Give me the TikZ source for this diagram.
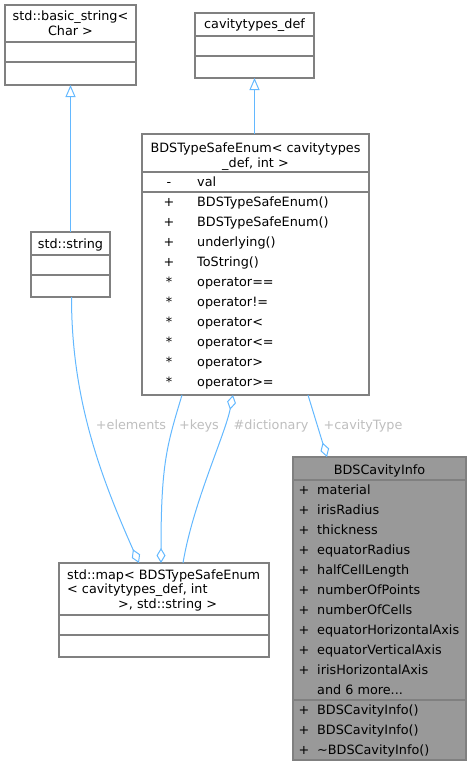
\documentclass[tikz,border=0pt]{standalone}
\usepackage{fontspec}
\setmainfont{DejaVu Sans}
\usetikzlibrary{arrows.meta}
\definecolor{edgeblue}{HTML}{63B8FF}
\definecolor{boxgray}{HTML}{808080}
\definecolor{lblgray}{HTML}{BEBEBE}
\definecolor{fillgray}{HTML}{999999}
\begin{document}
\begin{tikzpicture}[x=1pt,y=-1pt,
  box/.style={draw=boxgray, line width=1.2pt, fill=white, inner sep=0pt, outer sep=0pt, anchor=north west, rectangle},
  sepline/.style={draw=boxgray, line width=1.2pt},
  txt/.style={inner sep=0pt, font=\fontsize{12.8}{15}\selectfont, anchor=base},
  ltxt/.style={txt, anchor=base west},
  lbl/.style={txt, text=lblgray},
  inh/.style={draw=edgeblue, line width=1pt, -{Triangle[open, length=12pt, width=10pt]}},
  agg/.style={draw=edgeblue, line width=1pt, -{Diamond[open, length=15pt, width=9pt]}}
]
\useasboundingbox (0,0) rectangle (472,768);

% std::basic_string<Char>
\node[box, minimum width=131pt, minimum height=80pt] (basic) at (5,5) {};
\draw[sepline] (5,42) -- (136,42);
\draw[sepline] (5,62) -- (136,62);
\node[txt] (basicT1) at (70.5,21) {std::basic\_string<};
\node[txt] (basicT2) at (70.5,36) {Char >};

% cavitytypes_def
\node[box, minimum width=119pt, minimum height=65pt] (cavdef) at (195,13) {};
\draw[sepline] (195,36) -- (314,36);
\draw[sepline] (195,56) -- (314,56);
\node[txt] (cavdefT) at (254.5,28.5) {cavitytypes\_def};

% BDSTypeSafeEnum
\node[box, minimum width=227pt, minimum height=261pt] (enum) at (142,134) {};
\draw[sepline] (142,172) -- (369,172);
\draw[sepline] (142,192) -- (369,192);
\node[txt] (enumT1) at (255.5,152) {BDSTypeSafeEnum< cavitytypes};
\node[txt] (enumT2) at (255.5,167) {\_def, int >};
\node[txt] (em0) at (169,186) {-};
\node[ltxt] (et0) at (197,186) {val};
\node[txt] (em1) at (169,206) {+};
\node[ltxt] (et1) at (197,206) {BDSTypeSafeEnum()};
\node[txt] (em2) at (169,226) {+};
\node[ltxt] (et2) at (197,226) {BDSTypeSafeEnum()};
\node[txt] (em3) at (169,246) {+};
\node[ltxt] (et3) at (197,246) {underlying()};
\node[txt] (em4) at (169,266) {+};
\node[ltxt] (et4) at (197,266) {ToString()};
\node[txt] (em5) at (169,286) {*};
\node[ltxt] (et5) at (197,286) {operator==};
\node[txt] (em6) at (169,306) {*};
\node[ltxt] (et6) at (197,306) {operator!=};
\node[txt] (em7) at (169,326) {*};
\node[ltxt] (et7) at (197,326) {operator<};
\node[txt] (em8) at (169,346) {*};
\node[ltxt] (et8) at (197,346) {operator<=};
\node[txt] (em9) at (169,366) {*};
\node[ltxt] (et9) at (197,366) {operator>};
\node[txt] (em10) at (169,386) {*};
\node[ltxt] (et10) at (197,386) {operator>=};

% std::string
\node[box, minimum width=79pt, minimum height=65pt] (string) at (31,232) {};
\draw[sepline] (31,255) -- (110,255);
\draw[sepline] (31,275) -- (110,275);
\node[txt] (stringT) at (70.5,248) {std::string};

% std::map
\node[box, minimum width=210pt, minimum height=94pt] (map) at (59,563) {};
\draw[sepline] (59,615) -- (269,615);
\draw[sepline] (59,635) -- (269,635);
\node[ltxt] (mapT1) at (67,579) {std::map< BDSTypeSafeEnum};
\node[ltxt] (mapT2) at (67,593.5) {< cavitytypes\_def, int};
\node[ltxt] (mapT3) at (118,608) {>, std::string >};

% BDSCavityInfo
\node[box, fill=fillgray, minimum width=173pt, minimum height=303pt] (cavity) at (293,457) {};
\draw[sepline] (293,480) -- (466,480);
\draw[sepline] (293,700) -- (466,700);
\node[txt] (cavT) at (379.5,474) {BDSCavityInfo};
\node[txt] (cm0) at (304,494) {+};
\node[ltxt] (ct0) at (317,494) {material};
\node[txt] (cm1) at (304,514) {+};
\node[ltxt] (ct1) at (317,514) {irisRadius};
\node[txt] (cm2) at (304,534) {+};
\node[ltxt] (ct2) at (317,534) {thickness};
\node[txt] (cm3) at (304,554) {+};
\node[ltxt] (ct3) at (317,554) {equatorRadius};
\node[txt] (cm4) at (304,574) {+};
\node[ltxt] (ct4) at (317,574) {halfCellLength};
\node[txt] (cm5) at (304,594) {+};
\node[ltxt] (ct5) at (317,594) {numberOfPoints};
\node[txt] (cm6) at (304,614) {+};
\node[ltxt] (ct6) at (317,614) {numberOfCells};
\node[txt] (cm7) at (304,634) {+};
\node[ltxt] (ct7) at (317,634) {equatorHorizontalAxis};
\node[txt] (cm8) at (304,654) {+};
\node[ltxt] (ct8) at (317,654) {equatorVerticalAxis};
\node[txt] (cm9) at (304,674) {+};
\node[ltxt] (ct9) at (317,674) {irisHorizontalAxis};
\node[ltxt] (ct10) at (317,694) {and 6 more...};
\node[txt] (cm11) at (304,714) {+};
\node[ltxt] (ct11) at (317,714) {BDSCavityInfo()};
\node[txt] (cm12) at (304,734) {+};
\node[ltxt] (ct12) at (317,734) {BDSCavityInfo()};
\node[txt] (cm13) at (304,754) {+};
\node[ltxt] (ct13) at (317,754) {\textasciitilde BDSCavityInfo()};

% connectors
\draw[inh] (string.north) -- (basic.south);
\draw[inh] (cavdef.south |- enum.north) -- (cavdef.south);
\draw[agg] ([xshift=1pt]string.south) .. controls +(0,100) and +(-40,-90) .. ([xshift=80pt]map.north west);
\draw[agg] ([xshift=40pt]enum.south west) .. controls +(-15,50) and +(0,-100) .. ([xshift=102pt]map.north west);
\draw[agg] ([xshift=124pt]map.north west) .. controls +(10,-60) and +(-8,40) .. ([xshift=91pt]enum.south west);
\draw[agg] ([xshift=166pt]enum.south west) -- ([xshift=34pt]cavity.north west);

% labels
\node[lbl] (lelem) at (131,429) {+elements};
\node[lbl] (lkeys) at (199,429) {+keys};
\node[lbl] (ldict) at (271,429) {\#dictionary};
\node[lbl] (lcav) at (363,429) {+cavityType};
\end{tikzpicture}
\end{document}
